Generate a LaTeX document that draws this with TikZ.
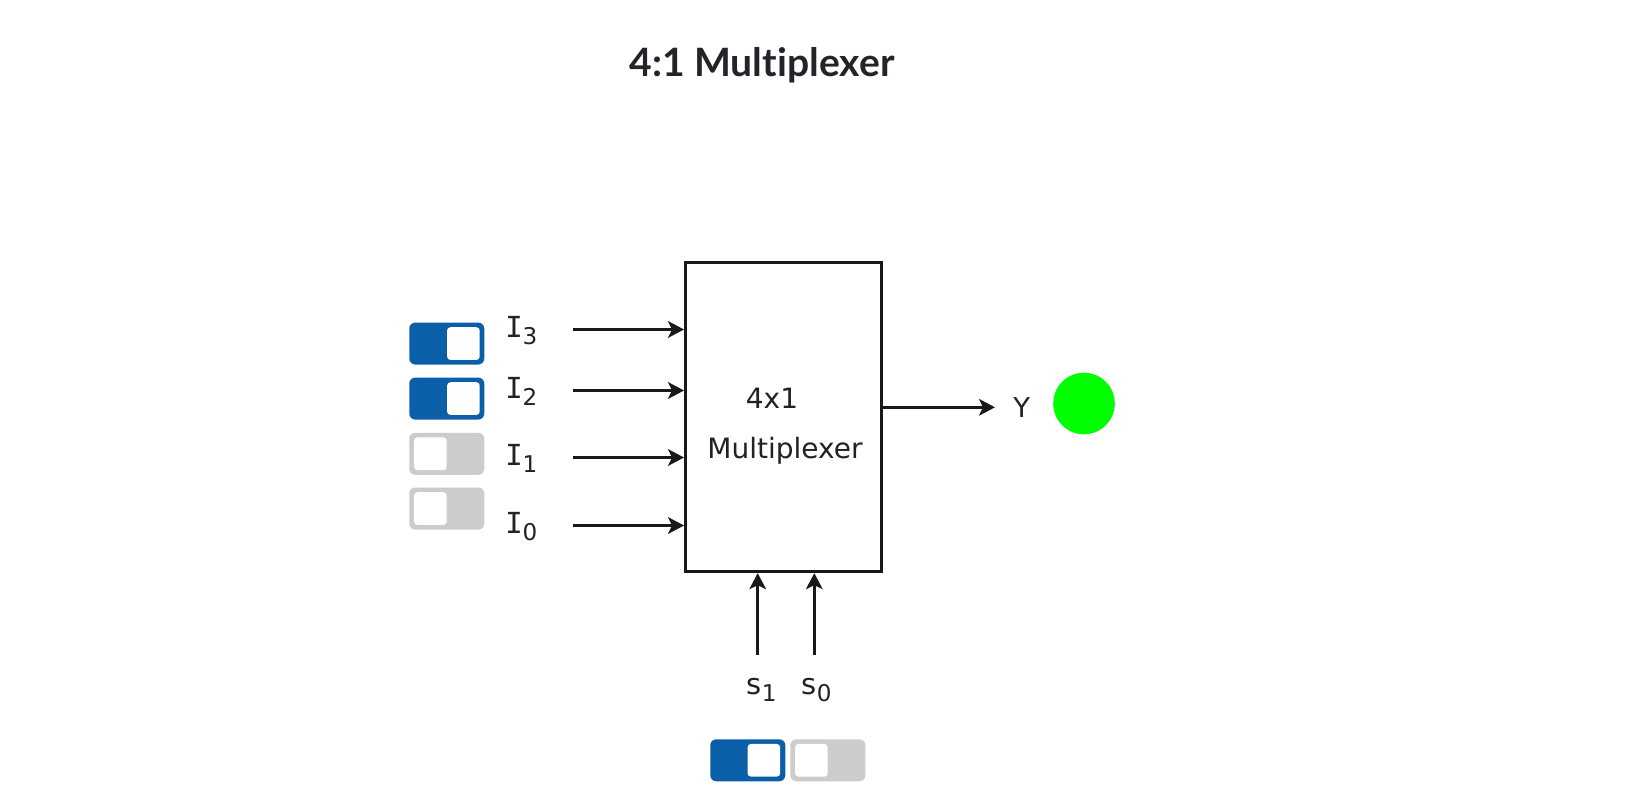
\documentclass[tikz,border=0pt]{standalone}
\usepackage{fontspec}
\setmainfont{DejaVu Sans}
\newfontfamily\titlefont{Lato}[Ligatures={NoCommon}]
\newfontfamily\serifI{DejaVu Sans Mono}
\usetikzlibrary{arrows.meta}
\definecolor{togblue}{RGB}{11,94,168}
\definecolor{toggrey}{RGB}{204,204,204}
\definecolor{ink}{RGB}{25,25,25}
\definecolor{textink}{RGB}{34,34,34}
\definecolor{titleink}{RGB}{33,37,41}
\definecolor{lamp}{RGB}{0,255,0}
\newcommand{\lbl}[2]{{\fontsize{21.75pt}{24pt}\selectfont #1\raisebox{-5.25pt}{\fontsize{17.3pt}{20pt}\selectfont #2}}}
\begin{document}
\begin{tikzpicture}[x=0.75pt,y=-0.75pt,
  wire/.style={draw=ink, line width=1.9pt, -{Stealth[length=12pt,width=12.5pt,inset=3pt]}},
  muxbox/.style={draw=ink, line width=2.2pt, fill=white, rectangle, inner sep=0pt,
     minimum width=147.15pt, minimum height=231.75pt},
  togbase/.style={rectangle, rounded corners=4.5pt, inner sep=0pt, minimum width=56.25pt, minimum height=31.5pt, anchor=north west},
  togon/.style={togbase, fill=togblue},
  togoff/.style={togbase, fill=toggrey},
  knob/.style={rectangle, rounded corners=2.5pt, fill=white, inner sep=0pt, minimum size=24.5pt},
  lab/.style={text=textink, inner sep=0pt, anchor=base west},
  boxtext/.style={text=textink, inner sep=0pt, anchor=base, font=\fontsize{21pt}{24pt}\selectfont},
  lampstyle/.style={circle, fill=lamp, inner sep=0pt, minimum size=46.2pt}
]
\useasboundingbox[fill=white] (0,0) rectangle (1627,798);

% title
\node[text=titleink, inner sep=0pt, anchor=base, font=\titlefont\bfseries\fontsize{29.3pt}{34pt}\selectfont] (title) at (762,76.7) {4:1 Multiplexer};

% multiplexer box
\node[muxbox] (mux) at (783.6,417.2) {};
\node[boxtext] (t4x1) at (772,408.3) {4x1};
\node[boxtext] (tmux) at (785,458.3) {Multiplexer};

% input toggles
\node[togon]  (tg3) at (409,322.3) {};
\node[togon]  (tg2) at (409,377.3) {};
\node[togoff] (tg1) at (409,432.5) {};
\node[togoff] (tg0) at (409,487.3) {};
\node[knob, anchor=east] (k3) at ([xshift=-3.4pt]tg3.east) {};
\node[knob, anchor=east] (k2) at ([xshift=-3.4pt]tg2.east) {};
\node[knob, anchor=west] (k1) at ([xshift=3.6pt]tg1.west) {};
\node[knob, anchor=west] (k0) at ([xshift=3.6pt]tg0.west) {};

% input labels
\node[lab] (l3) at (505,337.3) {\lbl{{\serifI I}}{3}};
\node[lab] (l2) at (505,398) {\lbl{{\serifI I}}{2}};
\node[lab] (l1) at (505,465.7) {\lbl{{\serifI I}}{1}};
\node[lab] (l0) at (505,533) {\lbl{{\serifI I}}{0}};

% input arrows
\coordinate (i3) at (572.7,329.5);
\coordinate (i2) at (572.7,390.5);
\coordinate (i1) at (572.7,457.5);
\coordinate (i0) at (572.7,525.5);
\draw[wire] (i3) -- (i3 -| mux.west);
\draw[wire] (i2) -- (i2 -| mux.west);
\draw[wire] (i1) -- (i1 -| mux.west);
\draw[wire] (i0) -- (i0 -| mux.west);

% output
\coordinate (yo) at (995,407.3);
\node[lab, font=\fontsize{20.5pt}{24pt}\selectfont] (ylab) at (1013,417.7) {Y};
\draw[wire] (yo -| mux.east) -- (yo);
\node[lampstyle] (lampnode) at (1084,403.5) {};

% select lines
\coordinate (s1c) at (757.7,655);
\coordinate (s0c) at (814.3,655);
\draw[wire] (s1c) -- (s1c |- mux.south);
\draw[wire] (s0c) -- (s0c |- mux.south);
\node[lab] (s1l) at (746.5,694) {\lbl{s}{1}};
\node[lab] (s0l) at (801.5,694) {\lbl{s}{0}};

% select toggles
\node[togon]  (ts1) at (710,739) {};
\node[togoff] (ts0) at (790,739) {};
\node[knob, anchor=east] (ks1) at ([xshift=-3.8pt]ts1.east) {};
\node[knob, anchor=west] (ks0) at ([xshift=3.6pt]ts0.west) {};
\end{tikzpicture}
\end{document}
